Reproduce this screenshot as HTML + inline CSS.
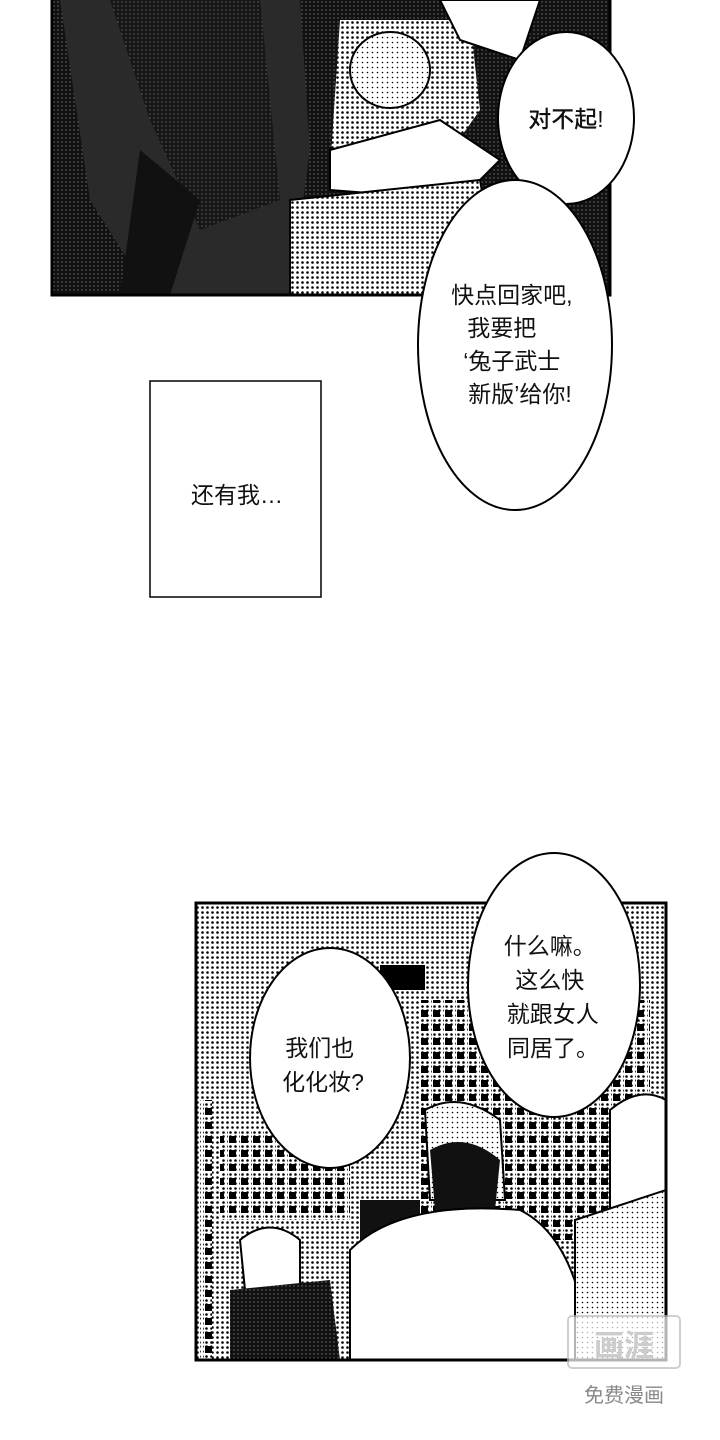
<!DOCTYPE html>
<html><head><meta charset="utf-8">
<style>
html,body{margin:0;padding:0;background:#fff;}
svg{display:block;}
text{font-family:"Liberation Sans","Noto Sans CJK SC",sans-serif;fill:#111;}
</style></head>
<body>
<svg width="720" height="1440" viewBox="0 0 720 1440" xmlns="http://www.w3.org/2000/svg">
<defs>
<pattern id="dots" width="5" height="5" patternUnits="userSpaceOnUse">
<rect width="5" height="5" fill="#fff"/><circle cx="2.5" cy="2.5" r="1.3" fill="#000"/></pattern>
<pattern id="dotsd" width="4" height="4" patternUnits="userSpaceOnUse">
<rect width="4" height="4" fill="#111"/><circle cx="2" cy="2" r="0.7" fill="#777"/></pattern>
<pattern id="dotsl" width="5" height="5" patternUnits="userSpaceOnUse">
<rect width="5" height="5" fill="#fff"/><circle cx="2.5" cy="2.5" r="0.8" fill="#000"/></pattern>
<pattern id="dash" width="12" height="14" patternUnits="userSpaceOnUse">
<rect width="12" height="14" fill="url(#dots)"/><rect x="1" y="2" width="7" height="7" fill="#000"/></pattern>
<clipPath id="c1"><rect x="52" y="0" width="558" height="295"/></clipPath>
<clipPath id="c2"><rect x="196" y="903" width="470" height="457"/></clipPath>
</defs>

<g clip-path="url(#c1)">
<rect x="52" y="0" width="558" height="295" fill="url(#dotsd)"/>
<path d="M60 0 L300 0 L310 150 L290 295 L150 295 L90 200 Z" fill="#2a2a2a"/>
<path d="M110 0 L260 0 L280 200 L200 230 L150 120 Z" fill="url(#dotsd)" opacity="0.8"/>
<path d="M140 150 L200 200 L170 295 L120 295 Z" fill="#111"/>
<path d="M340 20 L470 20 L480 110 L430 180 L330 170 Z" fill="url(#dots)"/>
<ellipse cx="390" cy="70" rx="40" ry="38" fill="url(#dotsl)" stroke="#000" stroke-width="2"/>
<path d="M330 150 L440 120 L500 160 L460 200 L330 190 Z" fill="#fff" stroke="#000" stroke-width="2"/>
<path d="M290 200 L480 180 L500 295 L290 295 Z" fill="url(#dots)" stroke="#000" stroke-width="2"/>
<path d="M440 0 L540 0 L520 60 L460 40 Z" fill="#fff" stroke="#000" stroke-width="2"/>
</g>
<rect x="52" y="-2" width="558" height="297" fill="none" stroke="#000" stroke-width="3"/>

<ellipse cx="566" cy="118" rx="68" ry="86" fill="#fff" stroke="#000" stroke-width="2"/>
<text x="566" y="127" font-size="23" font-weight="500" text-anchor="middle">对不起!</text>

<ellipse cx="515" cy="345" rx="97" ry="165" fill="#fff" stroke="#000" stroke-width="2"/>
<text font-size="23" text-anchor="middle">
<tspan x="515" y="303">快点回家吧,</tspan>
<tspan x="505" y="336">我要把</tspan>
<tspan x="515" y="369">‘兔子武士</tspan>
<tspan x="520" y="402">新版’给你!</tspan>
</text>

<rect x="150" y="381" width="171" height="216" fill="#fff" stroke="#000" stroke-width="1.5"/>
<text x="237" y="503" font-size="23" text-anchor="middle">还有我…</text>

<g clip-path="url(#c2)">
<rect x="196" y="903" width="470" height="457" fill="url(#dots)"/>
<rect x="380" y="965" width="45" height="25" fill="#000"/>
<rect x="220" y="1130" width="130" height="90" fill="url(#dash)"/>
<rect x="420" y="1000" width="230" height="240" fill="url(#dash)"/>
<rect x="200" y="1100" width="12" height="260" fill="url(#dash)"/>
<rect x="360" y="1200" width="60" height="55" fill="#111"/>
<path d="M425 1110 Q460 1090 500 1120 L505 1200 L430 1200 Z" fill="url(#dotsl)" stroke="#000" stroke-width="2"/>
<path d="M430 1150 Q465 1130 500 1160 L495 1210 L435 1210 Z" fill="#111"/>
<path d="M350 1250 Q400 1200 520 1210 Q580 1240 590 1360 L350 1360 Z" fill="#fff" stroke="#000" stroke-width="2"/>
<path d="M610 1110 Q640 1085 666 1100 L666 1200 L610 1210 Z" fill="#fff" stroke="#000" stroke-width="2"/>
<path d="M575 1220 L666 1190 L666 1360 L575 1360 Z" fill="url(#dotsl)" stroke="#000" stroke-width="2"/>
<path d="M240 1240 Q270 1215 300 1240 L300 1290 L245 1290 Z" fill="#fff" stroke="#000" stroke-width="2"/>
<path d="M230 1290 L330 1280 L340 1360 L230 1360 Z" fill="url(#dotsd)"/>
</g>
<rect x="196" y="903" width="470" height="457" fill="none" stroke="#000" stroke-width="3"/>

<ellipse cx="554" cy="985" rx="86" ry="132" fill="#fff" stroke="#000" stroke-width="2"/>
<text font-size="23" text-anchor="middle">
<tspan x="553" y="954">什么嘛。</tspan>
<tspan x="553" y="988">这么快</tspan>
<tspan x="556" y="1022">就跟女人</tspan>
<tspan x="553" y="1056">同居了。</tspan>
</text>

<ellipse cx="330" cy="1058" rx="80" ry="110" fill="#fff" stroke="#000" stroke-width="2"/>
<text font-size="23" text-anchor="middle">
<tspan x="323" y="1056">我们也</tspan>
<tspan x="323" y="1090">化化妆?</tspan>
</text>

<rect x="568" y="1316" width="112" height="52" fill="#fff" opacity="0.7" stroke="#bbb" stroke-width="2" rx="4"/>
<text x="624" y="1356" font-size="30" text-anchor="middle" style="fill:#ccc" font-weight="bold">画涯</text>
<text x="624" y="1402" font-size="20" text-anchor="middle" style="fill:#888">免费漫画</text>
</svg>
</body></html>
